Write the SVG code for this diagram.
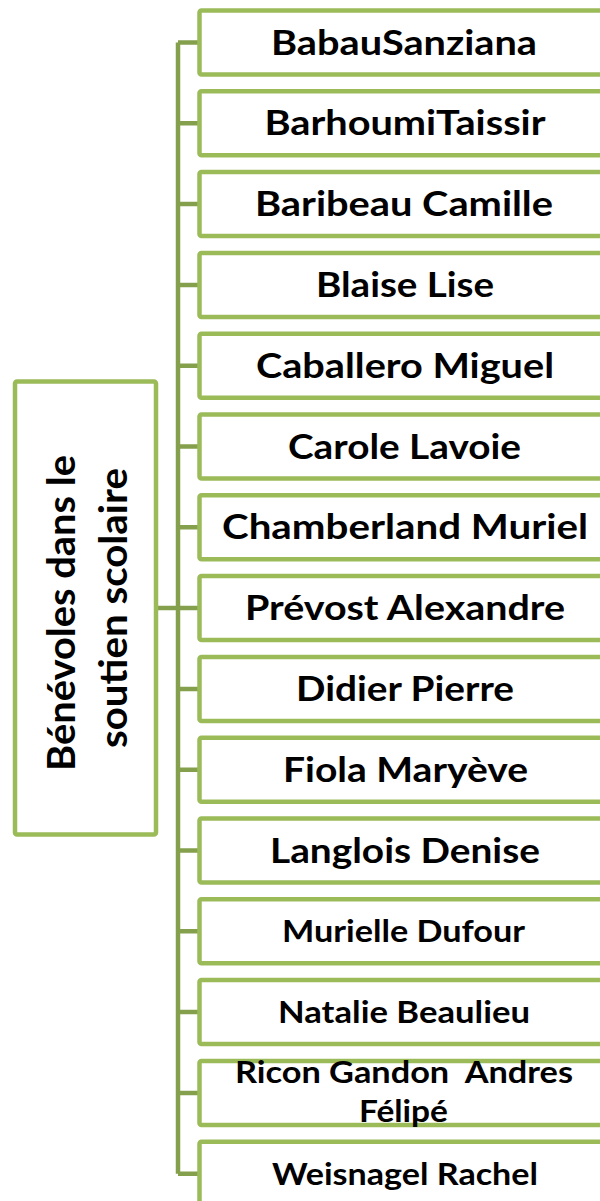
<svg xmlns="http://www.w3.org/2000/svg" width="600" height="1201" viewBox="0 0 600 1201">
<style>
.box{fill:#fff;stroke:#9bbb59;stroke-width:4.5}
.conn{fill:none;stroke:#85a04c;stroke-width:4.5}
.t{font-family:Lato,"Liberation Sans",Arial,sans-serif;font-weight:bold;fill:#000;text-anchor:middle}
.b{font-size:33.5px}
.s{font-size:30px}
.r{font-size:39px}
</style>
<rect width="600" height="1201" fill="#fff"/>
<g id="connectors">
<path class="conn" d="M178 42.5V1173.7M156 608H178M178 42.5H199.5M178 123.3H199.5M178 204.1H199.5M178 284.9H199.5M178 365.7H199.5M178 446.5H199.5M178 527.3H199.5M178 608.1H199.5M178 688.9H199.5M178 769.7H199.5M178 850.5H199.5M178 931.3H199.5M178 1012.1H199.5M178 1092.9H199.5M178 1173.7H199.5"/>
</g>
<g id="root">
<rect class="box" x="15" y="381.5" width="141" height="453" rx="2"/>
<text class="t r" transform="translate(75,613) rotate(-90)" textLength="316" lengthAdjust="spacingAndGlyphs">Bénévoles dans le</text>
<text class="t r" transform="translate(127,608) rotate(-90)" textLength="280" lengthAdjust="spacingAndGlyphs">soutien scolaire</text>
</g>
<g id="n1"><rect class="box" x="199.5" y="10.5" width="420" height="64" rx="2"/><text class="t b" x="404" y="54.5" textLength="266" lengthAdjust="spacingAndGlyphs">BabauSanziana</text></g>
<g id="n2"><rect class="box" x="199.5" y="91.3" width="420" height="64" rx="2"/><text class="t b" x="405" y="135.3" textLength="281" lengthAdjust="spacingAndGlyphs">BarhoumiTaissir</text></g>
<g id="n3"><rect class="box" x="199.5" y="172.1" width="420" height="64" rx="2"/><text class="t b" x="404" y="216.1" textLength="298" lengthAdjust="spacingAndGlyphs">Baribeau Camille</text></g>
<g id="n4"><rect class="box" x="199.5" y="252.9" width="420" height="64" rx="2"/><text class="t b" x="405" y="296.9" textLength="178" lengthAdjust="spacingAndGlyphs">Blaise Lise</text></g>
<g id="n5"><rect class="box" x="199.5" y="333.7" width="420" height="64" rx="2"/><text class="t b" x="405" y="377.7" textLength="298" lengthAdjust="spacingAndGlyphs">Caballero Miguel</text></g>
<g id="n6"><rect class="box" x="199.5" y="414.5" width="420" height="64" rx="2"/><text class="t b" x="404.5" y="458.5" textLength="233" lengthAdjust="spacingAndGlyphs">Carole Lavoie</text></g>
<g id="n7"><rect class="box" x="199.5" y="495.3" width="420" height="64" rx="2"/><text class="t b" x="405" y="539.3" textLength="366" lengthAdjust="spacingAndGlyphs">Chamberland Muriel</text></g>
<g id="n8"><rect class="box" x="199.5" y="576.1" width="420" height="64" rx="2"/><text class="t b" x="405" y="620.1" textLength="320" lengthAdjust="spacingAndGlyphs">Prévost Alexandre</text></g>
<g id="n9"><rect class="box" x="199.5" y="656.9" width="420" height="64" rx="2"/><text class="t b" x="405" y="700.9" textLength="218" lengthAdjust="spacingAndGlyphs">Didier Pierre</text></g>
<g id="n10"><rect class="box" x="199.5" y="737.7" width="420" height="64" rx="2"/><text class="t b" x="405.5" y="781.7" textLength="245" lengthAdjust="spacingAndGlyphs">Fiola Maryève</text></g>
<g id="n11"><rect class="box" x="199.5" y="818.5" width="420" height="64" rx="2"/><text class="t b" x="405" y="862.5" textLength="270" lengthAdjust="spacingAndGlyphs">Langlois Denise</text></g>
<g id="n12"><rect class="box" x="199.5" y="899.3" width="420" height="64" rx="2"/><text class="t s" x="403.5" y="942" textLength="243" lengthAdjust="spacingAndGlyphs">Murielle Dufour</text></g>
<g id="n13"><rect class="box" x="199.5" y="980.1" width="420" height="64" rx="2"/><text class="t s" x="404" y="1022.8" textLength="252" lengthAdjust="spacingAndGlyphs">Natalie Beaulieu</text></g>
<g id="n14"><rect class="box" x="199.5" y="1060.9" width="420" height="64" rx="2"/><text class="t s" x="404" y="1082.5" textLength="338" lengthAdjust="spacingAndGlyphs" xml:space="preserve">Ricon Gandon  Andres</text><text class="t s" x="403.5" y="1121.5" textLength="89" lengthAdjust="spacingAndGlyphs">Félipé</text></g>
<g id="n15"><rect class="box" x="199.5" y="1141.7" width="420" height="64" rx="2"/><text class="t s" x="405" y="1184.5" textLength="266" lengthAdjust="spacingAndGlyphs">Weisnagel Rachel</text></g>
</svg>
